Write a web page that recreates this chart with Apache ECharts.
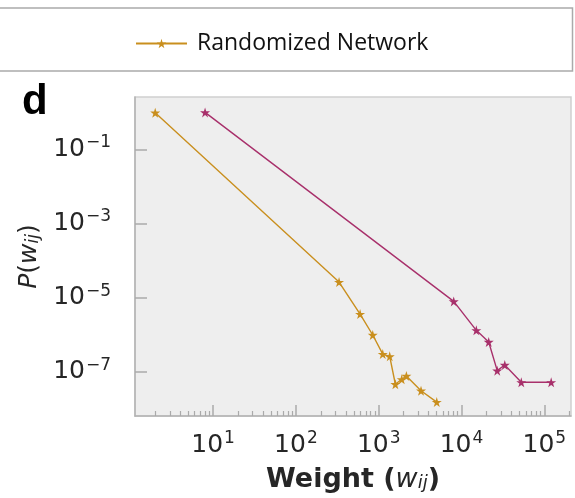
<!DOCTYPE html>
<html>
<head>
<meta charset="utf-8">
<script src="https://cdn.jsdelivr.net/npm/echarts@6/dist/echarts.min.js"></script>
<style>
  html, body { margin: 0; padding: 0; background: #fff; }
  #main { width: 575px; height: 498px; }
</style>
</head>
<body>
<div id="main"></div>
<script>
// weight values and probabilities
var randWeight = [2, 332, 596, 847, 1119, 1358, 1589, 1897, 2158, 3243, 5024];
var randProb = [0.97, 2.63e-5, 3.6e-6, 9.8e-7, 3.0e-7, 2.6e-7, 4.6e-8, 6.25e-8, 7.7e-8, 3.08e-8, 1.52e-8];
var realWeight = [8, 8054, 15100, 21300, 27000, 33300, 52700, 121000];
var realProb = [0.99, 7.9e-6, 1.31e-6, 6.34e-7, 1.07e-7, 1.52e-7, 5.19e-8, 5.19e-8];
var xMajor = [1, 2, 3, 4, 5];          // exponents of 10
var yMajor = [-1, -3, -5, -7];
var xRange = [1.14, 2.1e5];
var yRange = [2.58, 6.4e-9];

var star = 'path://M50,0 L61,35 L98,35 L68,57 L79,91 L50,70 L21,91 L32,57 L2,35 L39,35 Z';
var orange = '#c98f1e';
var magenta = '#a8306b';

function toPairs(xs, ys) {
  var out = [];
  for (var i = 0; i < xs.length; i++) {
    out.push([Math.log10(xs[i]), Math.log10(ys[i])]);
  }
  return out;
}

// minor ticks at 2..9 times each decade
var xMinor = [];
for (var d = 0; d <= 5; d++) {
  for (var k = 2; k <= 9; k++) {
    var v = Math.log10(k * Math.pow(10, d));
    if (v > Math.log10(xRange[0]) && v < Math.log10(xRange[1])) xMinor.push(v);
  }
}

function powLabel(v) {
  var e = Math.round(v);
  return '{n|10}{s|' + (e < 0 ? '\u2212' + (-e) : e) + '}';
}

var labelRich = {
  n: { fontSize: 25, color: '#262626', fontFamily: 'DejaVu Sans' },
  s: { fontSize: 17, color: '#262626', fontFamily: 'DejaVu Sans', padding: [0, 0, 13, 1] }
};

var myChart = echarts.init(document.getElementById('main'));

var option = {
  animation: false,
  title: {
    text: 'd',
    left: 17,
    top: 76,
    textStyle: { fontSize: 42, fontWeight: 'bold', fontFamily: 'Liberation Sans', color: '#000' }
  },
  graphic: [{
    type: 'rect',
    z: -1,
    shape: { x: -2, y: 8, width: 574.5, height: 63 },
    style: { fill: '#fff', stroke: '#aaaaaa', lineWidth: 1.5 }
  }],
  legend: {
    data: ['Randomized Network'],
    left: 130,
    top: 27,
    itemWidth: 51,
    itemHeight: 12,
    textStyle: { fontSize: 23, fontFamily: 'Open Sans', color: '#111', padding: [0, 0, 0, 5] }
  },
  grid: {
    left: 135,
    top: 97,
    right: 4,
    bottom: 82,
    show: true,
    backgroundColor: '#eeeeee',
    borderColor: '#cfcfcf',
    borderWidth: 1.5
  },
  xAxis: [{
    type: 'value',
    min: Math.log10(xRange[0]),
    max: Math.log10(xRange[1]),
    position: 'bottom',
    splitLine: { show: false },
    axisLine: { show: true, onZero: false, lineStyle: { color: '#b3b3b3', width: 1.5 } },
    axisTick: { show: true, inside: true, length: 11, customValues: xMajor,
      lineStyle: { color: '#aaaaaa', width: 1.5 } },
    axisLabel: { customValues: xMajor, formatter: powLabel, margin: 14, rich: labelRich },
    name: '{b|Weight (}{i|w}{sub|ij}{b|)}',
    nameLocation: 'middle',
    nameGap: 50,
    nameTextStyle: {
      rich: {
        b: { fontSize: 27, fontWeight: 'bold', fontFamily: 'DejaVu Sans', color: '#262626' },
        i: { fontSize: 27, fontStyle: 'italic', fontFamily: 'DejaVu Sans', color: '#262626' },
        sub: { fontSize: 18, fontStyle: 'italic', fontFamily: 'DejaVu Sans', color: '#262626', padding: [0, 0, -8, 0] }
      }
    }
  }, {
    type: 'value',
    min: Math.log10(xRange[0]),
    max: Math.log10(xRange[1]),
    position: 'bottom',
    splitLine: { show: false },
    axisLine: { show: false, onZero: false },
    axisTick: { show: true, inside: true, length: 5, customValues: xMinor,
      lineStyle: { color: '#aaaaaa', width: 1.2 } },
    axisLabel: { show: false }
  }],
  yAxis: {
    type: 'value',
    min: Math.log10(yRange[1]),
    max: Math.log10(yRange[0]),
    splitLine: { show: false },
    axisLine: { show: true, onZero: false, lineStyle: { color: '#b3b3b3', width: 1.5 } },
    axisTick: { show: true, inside: true, length: 12, customValues: yMajor,
      lineStyle: { color: '#aaaaaa', width: 1.5 } },
    axisLabel: { customValues: yMajor, formatter: powLabel, margin: 24, rich: labelRich },
    name: '{i|P}{n|(}{i|w}{sub|ij}{n|)}',
    nameLocation: 'middle',
    nameRotate: 90,
    nameGap: 92,
    nameTextStyle: {
      rich: {
        n: { fontSize: 25, fontFamily: 'DejaVu Sans', color: '#262626' },
        i: { fontSize: 25, fontStyle: 'italic', fontFamily: 'DejaVu Sans', color: '#262626' },
        sub: { fontSize: 17, fontStyle: 'italic', fontFamily: 'DejaVu Sans', color: '#262626', padding: [0, 0, -8, 0] }
      }
    }
  },
  series: [{
    name: 'Randomized Network',
    type: 'line',
    data: toPairs(randWeight, randProb),
    symbol: star,
    symbolSize: 10,
    itemStyle: { color: orange },
    lineStyle: { color: orange, width: 1.4 }
  }, {
    name: 'Real Network',
    type: 'line',
    data: toPairs(realWeight, realProb),
    symbol: star,
    symbolSize: 10,
    itemStyle: { color: magenta },
    lineStyle: { color: magenta, width: 1.4 }
  }]
};

myChart.setOption(option);
</script>
</body>
</html>
